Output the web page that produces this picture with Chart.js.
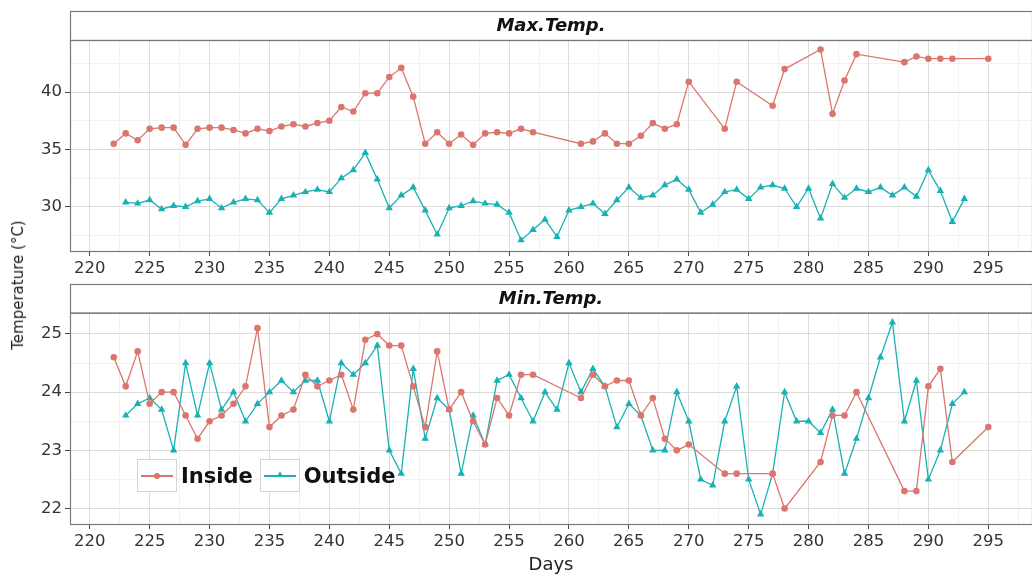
<!DOCTYPE html>
<html>
<head>
<meta charset="utf-8">
<script src="https://cdn.jsdelivr.net/npm/chart.js@4.4.1/dist/chart.umd.min.js"></script>
<style>
    body { margin: 0; background: #fff; }
    #wrap { position: relative; width: 1032px; height: 577px; overflow: hidden; font-family: "DejaVu Sans", sans-serif; }
    canvas { position: absolute; left: 0; }
    #ytitle {
        position: absolute; left: 18px; top: 285px;
        transform: translate(-50%, -50%) rotate(-90deg);
        font-size: 15px; color: #222; white-space: nowrap;
    }
    #legend { position: absolute; left: 137px; top: 459px; display: flex; align-items: center; }
    .key { position: relative; width: 38px; height: 31px; border: 1px solid #d4d4d4; background: #fff; }
    .key .ln { position: absolute; left: 3px; right: 3px; top: 15px; height: 1.5px; }
    .key .dot { position: absolute; left: 16px; top: 13px; width: 6px; height: 6px; border-radius: 50%; }
    .key .tri { position: absolute; left: 16px; top: 11px; width: 0; height: 0;
                border-left: 3.5px solid transparent; border-right: 3.5px solid transparent; }
    .lab { font-size: 21px; font-weight: bold; color: #111; margin: 0 7px 0 4px; }
</style>
</head>
<body>
<div id="wrap">
    <canvas id="maxChart" width="1032" height="280" style="top:0"></canvas>
    <canvas id="minChart" width="1032" height="297" style="top:280px"></canvas>
    <div id="ytitle">Temperature (°C)</div>
    <div id="legend"></div>
</div>
<script>
/* ---------- data ---------- */
const insideDays = [222, 223, 224, 225, 226, 227, 228, 229, 230, 231, 232, 233, 234, 235, 236, 237, 238, 239,
    240, 241, 242, 243, 244, 245, 246, 247, 248, 249, 250, 251, 252, 253, 254, 255, 256, 257,
    261, 262, 263, 264, 265, 266, 267, 268, 269, 270, 273, 274, 277, 278, 281, 282, 283, 284,
    288, 289, 290, 291, 292, 295];

const outsideDays = [223, 224, 225, 226, 227, 228, 229, 230, 231, 232, 233, 234, 235, 236, 237, 238, 239, 240,
    241, 242, 243, 244, 245, 246, 247, 248, 249, 250, 251, 252, 253, 254, 255, 256, 257, 258,
    259, 260, 261, 262, 263, 264, 265, 266, 267, 268, 269, 270, 271, 272, 273, 274, 275, 276,
    277, 278, 279, 280, 281, 282, 283, 284, 285, 286, 287, 288, 289, 290, 291, 292, 293];

const maxInside = [35.5, 36.4, 35.8, 36.8, 36.9, 36.9, 35.4, 36.8, 36.9, 36.9, 36.7, 36.4, 36.8, 36.6, 37.0, 37.2, 37.0, 37.3,
    37.5, 38.7, 38.3, 39.9, 39.9, 41.3, 42.1, 39.6, 35.5, 36.5, 35.5, 36.3, 35.4, 36.4, 36.5, 36.4, 36.8, 36.5,
    35.5, 35.7, 36.4, 35.5, 35.5, 36.2, 37.3, 36.8, 37.2, 40.9, 36.8, 40.9, 38.8, 42.0, 43.7, 38.1, 41.0, 43.3,
    42.6, 43.1, 42.9, 42.9, 42.9, 42.9];

const maxOutside = [30.4, 30.3, 30.6, 29.8, 30.1, 30.0, 30.5, 30.7, 29.9, 30.4, 30.7, 30.6, 29.5, 30.7, 31.0, 31.3, 31.5, 31.3,
    32.5, 33.2, 34.7, 32.4, 29.9, 31.0, 31.7, 29.7, 27.6, 29.9, 30.1, 30.5, 30.3, 30.2, 29.5, 27.1, 28.0, 28.9,
    27.4, 29.7, 30.0, 30.3, 29.4, 30.6, 31.7, 30.8, 31.0, 31.9, 32.4, 31.5, 29.5, 30.2, 31.3, 31.5, 30.7, 31.7,
    31.9, 31.6, 30.0, 31.6, 29.0, 32.0, 30.8, 31.6, 31.3, 31.7, 31.0, 31.7, 30.9, 33.2, 31.4, 28.7, 30.7];

const minInside = [24.6, 24.1, 24.7, 23.8, 24.0, 24.0, 23.6, 23.2, 23.5, 23.6, 23.8, 24.1, 25.1, 23.4, 23.6, 23.7, 24.3, 24.1,
    24.2, 24.3, 23.7, 24.9, 25.0, 24.8, 24.8, 24.1, 23.4, 24.7, 23.7, 24.0, 23.5, 23.1, 23.9, 23.6, 24.3, 24.3,
    23.9, 24.3, 24.1, 24.2, 24.2, 23.6, 23.9, 23.2, 23.0, 23.1, 22.6, 22.6, 22.6, 22.0, 22.8, 23.6, 23.6, 24.0,
    22.3, 22.3, 24.1, 24.4, 22.8, 23.4];

const minOutside = [23.6, 23.8, 23.9, 23.7, 23.0, 24.5, 23.6, 24.5, 23.7, 24.0, 23.5, 23.8, 24.0, 24.2, 24.0, 24.2, 24.2, 23.5,
    24.5, 24.3, 24.5, 24.8, 23.0, 22.6, 24.4, 23.2, 23.9, 23.7, 22.6, 23.6, 23.1, 24.2, 24.3, 23.9, 23.5, 24.0,
    23.7, 24.5, 24.0, 24.4, 24.1, 23.4, 23.8, 23.6, 23.0, 23.0, 24.0, 23.5, 22.5, 22.4, 23.5, 24.1, 22.5, 21.9,
    22.6, 24.0, 23.5, 23.5, 23.3, 23.7, 22.6, 23.2, 23.9, 24.6, 25.2, 23.5, 24.2, 22.5, 23.0, 23.8, 24.0];

const seriesNames = ["Inside", "Outside"];
const panelTitles = ["Max.Temp.", "Min.Temp."];
const xLabelTitle = "Days";

/* ---------- look ---------- */
const RED = "#db766f";
const TEAL = "#18b2b4";
const FONT = "DejaVu Sans";

function toPoints(days, vals) {
    return days.map((d, i) => ({ x: d, y: vals[i] }));
}

/* strip box on top + frame around the panel */
const panelFrame = {
    id: "panelFrame",
    beforeDraw(chart, args, opts) {
        const a = chart.chartArea, ctx = chart.ctx;
        ctx.save();
        ctx.fillStyle = "#fff";
        ctx.fillRect(a.left, opts.stripTop, a.right - a.left, a.top - opts.stripTop);
        ctx.restore();
    },
    afterDraw(chart, args, opts) {
        const a = chart.chartArea, ctx = chart.ctx;
        ctx.save();
        ctx.strokeStyle = "#7a7a7a";
        ctx.lineWidth = 1.2;
        ctx.strokeRect(a.left + 0.5, opts.stripTop + 0.5, a.right - a.left, a.top - opts.stripTop);
        ctx.strokeRect(a.left + 0.5, a.top + 0.5, a.right - a.left, a.bottom - a.top);
        ctx.restore();
    }
};

function gridOpts(isMajor) {
    return {
        color: c => (c.tick && isMajor(c.tick.value)) ? "#dcdcdc" : "#efefef",
        lineWidth: c => (c.tick && isMajor(c.tick.value)) ? 1 : 0.8,
        tickColor: c => (c.tick && isMajor(c.tick.value)) ? "#444" : "rgba(0,0,0,0)",
        tickLength: 5,
        drawTicks: true
    };
}

function makePanel(id, title, inVals, outVals, yMin, yMax, yStep, yMajorStep, cfg) {
    const xMajor = v => Math.abs(v % 5) < 1e-6;
    const yMajor = v => Math.abs(v / yMajorStep - Math.round(v / yMajorStep)) < 1e-6;

    return new Chart(document.getElementById(id), {
        type: "line",
        data: {
            datasets: [
                {
                    label: seriesNames[0], data: toPoints(insideDays, inVals),
                    borderColor: RED, backgroundColor: RED, borderWidth: 1.3,
                    pointStyle: "circle", pointRadius: 3.3, pointBorderWidth: 0
                },
                {
                    label: seriesNames[1], data: toPoints(outsideDays, outVals),
                    borderColor: TEAL, backgroundColor: TEAL, borderWidth: 1.3,
                    pointStyle: "triangle", pointRadius: 4.3, pointBorderWidth: 0
                }
            ]
        },
        options: {
            responsive: false,
            animation: false,
            layout: { autoPadding: false, padding: { top: cfg.stripTop, left: 0, right: 0, bottom: 0 } },
            plugins: {
                legend: { display: false },
                tooltip: { enabled: false },
                title: {
                    display: true, text: title, fullSize: false, color: "#111",
                    font: { family: FONT, size: 18, weight: "bold", style: "italic", lineHeight: 1.2 },
                    padding: { top: 4.5, bottom: cfg.stripH - 4.5 - 21.6 }
                },
                panelFrame: { stripTop: cfg.stripTop }
            },
            scales: {
                x: {
                    type: "linear", min: 218.35, max: 298.65,
                    ticks: {
                        stepSize: 2.5, includeBounds: false, autoSkip: false, maxRotation: 0,
                        color: "#333", font: { family: FONT, size: 16.5 }, padding: 3,
                        callback: v => xMajor(v) ? String(v) : ""
                    },
                    grid: gridOpts(xMajor),
                    border: { display: false },
                    title: {
                        display: cfg.xTitle, text: xLabelTitle, color: "#222",
                        font: { family: FONT, size: 18 }, padding: { top: 0, bottom: 1 }
                    },
                    afterFit: s => {
                        s.height = cfg.xHeight;
                        s.paddingLeft = 0;
                        s.paddingRight = 0;
                    }
                },
                y: {
                    min: yMin, max: yMax,
                    ticks: {
                        stepSize: yStep, includeBounds: false,
                        color: "#333", font: { family: FONT, size: 16.5 }, padding: 3,
                        callback: v => yMajor(v) ? String(Math.round(v)) : ""
                    },
                    grid: gridOpts(yMajor),
                    border: { display: false },
                    afterFit: s => {
                        s.width = 70;
                        s.paddingTop = 0;
                        s.paddingBottom = 0;
                    }
                }
            }
        },
        plugins: [panelFrame]
    });
}

makePanel("maxChart", panelTitles[0], maxInside, maxOutside, 26.16, 44.53, 2.5, 5,
    { stripTop: 11, stripH: 29, xHeight: 29, xTitle: false });
makePanel("minChart", panelTitles[1], minInside, minOutside, 21.735, 25.365, 0.5, 1,
    { stripTop: 4, stripH: 28.7, xHeight: 53, xTitle: true });

/* legend drawn inside the lower panel */
function renderLegend() {
    const box = document.getElementById("legend");
    box.innerHTML = `
        <div class="key"><div class="ln" style="background:${RED}"></div>
            <div class="dot" style="background:${RED}"></div></div>
        <span class="lab">${seriesNames[0]}</span>
        <div class="key"><div class="ln" style="background:${TEAL}"></div>
            <div class="tri" style="border-bottom:6px solid ${TEAL}"></div></div>
        <span class="lab">${seriesNames[1]}</span>
    `;
}
renderLegend();
</script>
</body>
</html>
